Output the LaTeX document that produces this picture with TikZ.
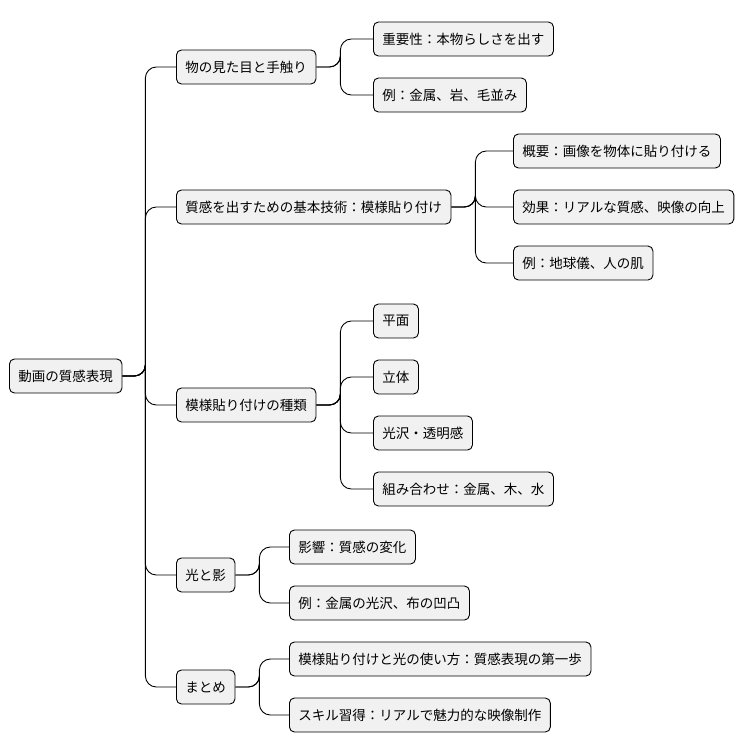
\documentclass[tikz,border=0pt]{standalone}
\usepackage{fontspec}
\usetikzlibrary{calc}
\newfontfamily\cjk{Noto Sans CJK JP}
\begin{document}
\begin{tikzpicture}[x=1pt,y=-1pt,
  box/.style={draw=black,line width=0.9pt,fill={rgb,255:red,241;green,241;blue,241},rounded corners=5pt,anchor=west,minimum height=34pt,inner xsep=9pt,font=\cjk\fontsize{13.5}{15}\selectfont},
  conn/.style={draw=black,line width=0.9pt,rounded corners=11pt}]
\useasboundingbox (0,0) rectangle (754,752);
\node[box] (r) at (9,376) {動画の質感表現};
\node[box] (a) at (176,67) {物の見た目と手触り};
\node[box] (b) at (176,207) {質感を出すための基本技術：模様貼り付け};
\node[box] (c) at (176,405) {模様貼り付けの種類};
\node[box] (d) at (176,575) {光と影};
\node[box] (e) at (176,687) {まとめ};
\node[box] (a1) at (373,39) {重要性：本物らしさを出す};
\node[box] (a2) at (373,95) {例：金属、岩、毛並み};
\node[box] (b1) at (513,151) {概要：画像を物体に貼り付ける};
\node[box] (b2) at (513,207) {効果：リアルな質感、映像の向上};
\node[box] (b3) at (513,263) {例：地球儀、人の肌};
\node[box] (c1) at (373,321) {平面};
\node[box] (c2) at (373,377) {立体};
\node[box] (c3) at (373,433) {光沢・透明感};
\node[box] (c4) at (373,489) {組み合わせ：金属、木、水};
\node[box] (d1) at (289,547) {影響：質感の変化};
\node[box] (d2) at (289,603) {例：金属の光沢、布の凹凸};
\node[box] (e1) at (289,659) {模様貼り付けと光の使い方：質感表現の第一歩};
\node[box] (e2) at (289,715) {スキル習得：リアルで魅力的な映像制作};
\foreach \c in {a,b,c,d,e} \draw[conn] (r.east) -| ($(r.east)+(23,0)$) |- (\c.west);
\foreach \p/\cs in {a/{a1,a2},b/{b1,b2,b3},c/{c1,c2,c3,c4},d/{d1,d2},e/{e1,e2}}
  \foreach \c in \cs \draw[conn] (\p.east) -| ($(\p.east)+(24,0)$) |- (\c.west);
\end{tikzpicture}
\end{document}
